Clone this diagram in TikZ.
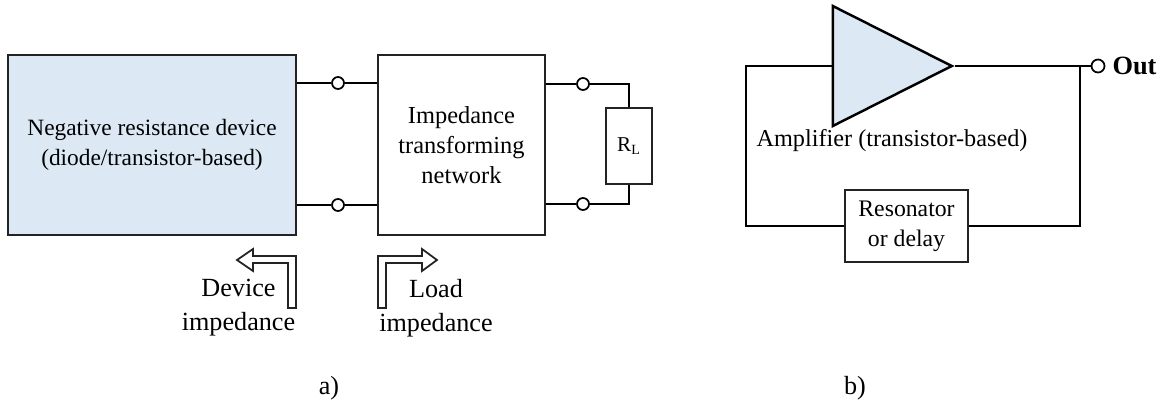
\documentclass[tikz,border=0pt]{standalone}
\usepackage{fontspec}
\setmainfont{Liberation Serif}
\usetikzlibrary{shapes.geometric}
\definecolor{devblue}{RGB}{220, 232, 244}
\definecolor{linegray}{RGB}{35, 35, 35}

\begin{document}
\begin{tikzpicture}[%
        basic/.style ={draw=linegray, line width=1.1pt, minimum width=3cm, minimum height=1cm, align=center, inner sep=0pt, font=\fontsize{13.9}{17.2}\selectfont},
        device/.style={basic, fill=devblue},
        block/.style={basic, fill=white},
        amptri/.style={draw=black, line width=1.4pt, fill=devblue, isosceles triangle, isosceles triangle stretches, inner sep=0pt},
        terminal/.style={circle, draw=black, line width=1pt, fill=white, inner sep=0pt, minimum size=0.24cm},
        caption/.style={align=center, inner sep=0pt, font=\fontsize{14.9}{19.3}\selectfont},
        wire/.style={line width=1.3pt, black},
        imparrow/.style={draw=linegray, line width=1pt, fill=white}
        ]
        \useasboundingbox (0,0) rectangle (23.24,8.08);
        % a)
        \node[device, minimum width=5.76cm, minimum height=3.6cm, font=\fontsize{13.3}{17.2}\selectfont] (dev) at (3.04,5.18) {Negative resistance device \\ (diode/transistor-based)};
        \node[block, minimum width=3.34cm, minimum height=3.6cm] (imp) at (9.23,5.18) {Impedance \\ transforming \\ network};
        \node[block, minimum width=0.92cm, minimum height=1.52cm, font=\fontsize{12}{14}\selectfont] (rl) at (12.58,5.16) {R\textsubscript{L}};
        \node[terminal] (ta) at (6.76,6.42) {};
        \node[terminal] (tb) at (6.76,3.98) {};
        \node[terminal] (tc) at (11.66,6.40) {};
        \node[terminal] (td) at (11.66,4.00) {};
        \draw[wire] (dev.east |- ta) -- (ta);
        \draw[wire] (ta) -- (imp.west |- ta);
        \draw[wire] (dev.east |- tb) -- (tb);
        \draw[wire] (tb) -- (imp.west |- tb);
        \draw[wire] (imp.east |- tc) -- (tc);
        \draw[wire] (imp.east |- td) -- (td);
        \draw[wire] (tc) -| (rl.north);
        \draw[wire] (td) -| (rl.south);
        \draw[imparrow] (5.92,1.92) -- (5.92,2.96) -- (5.06,2.96) -- (5.06,3.10) -- (4.74,2.88) -- (5.06,2.66) -- (5.06,2.82) -- (5.76,2.82) -- (5.76,1.92) -- cycle;
        \draw[imparrow] (7.56,1.92) -- (7.56,2.96) -- (8.44,2.96) -- (8.44,3.10) -- (8.74,2.88) -- (8.44,2.66) -- (8.44,2.82) -- (7.72,2.82) -- (7.72,1.92) -- cycle;
        \node[caption] (devlbl) at (4.77,1.92) {Device \\ impedance};
        \node[caption] (loadlbl) at (8.72,1.92) {Load \\ impedance};
        \node[caption] (capa) at (6.58,0.32) {a)};
        % b)
        \node[amptri, minimum width=2.4cm, minimum height=2.38cm, anchor=apex] (amp) at (19.10,6.76) {};
        \node[caption, font=\fontsize{13.8}{17}\selectfont] (amplbl) at (17.84,5.27) {Amplifier (transistor-based)};
        \node[block, minimum width=2.46cm, minimum height=1.44cm, font=\fontsize{13.5}{17.2}\selectfont] (res) at (18.13,3.56) {Resonator \\ or delay};
        \node[terminal, minimum size=0.26cm] (out) at (21.96,6.76) {};
        \node[caption, font=\fontsize{15}{17}\selectfont\bfseries] (outlbl) at (22.69,6.76) {Out};
        \node[caption] (capb) at (17.10,0.32) {b)};
        \coordinate (fbl) at (14.92,6.76);
        \coordinate (fbr) at (21.60,6.76);
        \draw[wire] (amp.apex) -- (out);
        \draw[wire] (amp.west) -- (fbl) |- (res.west);
        \draw[wire] (res.east) -| (fbr);
    \end{tikzpicture}
\end{document}
